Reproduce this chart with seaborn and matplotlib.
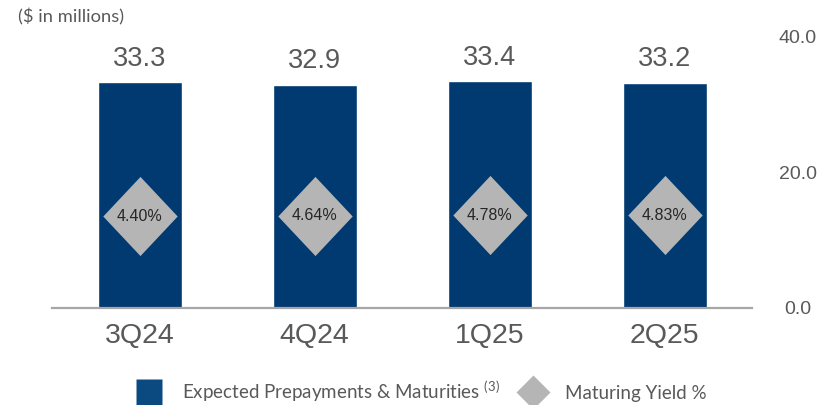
import numpy as np
import matplotlib
matplotlib.use("Agg")
import matplotlib.pyplot as plt
import seaborn as sns
from matplotlib.lines import Line2D

quarters = ["3Q24", "4Q24", "1Q25", "2Q25"]
amounts = [33.3, 32.9, 33.4, 33.2]
yields = [4.40, 4.64, 4.78, 4.83]
bar_label = "Expected Prepayments & Maturities"
yield_label = "Maturing Yield %"

navy = "#003a70"
grey_fill = "#b5b5b5"
text_grey = "#595959"

sns.set_style("white")
plt.rcParams["font.family"] = ["Liberation Sans", "DejaVu Sans"]
plt.rcParams["mathtext.fontset"] = "custom"
plt.rcParams["mathtext.rm"] = "Lato"

fig = plt.figure(figsize=(8.19, 4.05), dpi=100)
ax = fig.add_axes([0.0635, 0.2402, 0.8547, 0.6694])

sns.barplot(x=quarters, y=amounts, color=navy, saturation=1, width=0.48, ax=ax)
ax.set_ylim(0, 40)
ax.set_xlim(-0.5, 3.5)
ax.bar_label(ax.containers[0], fmt="%.1f", padding=7.5, fontsize=19.5, color=text_grey)

# yields on a hidden second axis
diamond = [(-0.94, 0), (0, 1), (0.94, 0), (0, -1)]
ax2 = ax.twinx()
ax2.set_ylim(-29.3, 70.7)
ax2.plot(np.arange(len(quarters)), yields, ls="none", marker=diamond, ms=57,
         mfc=grey_fill, mec="none")
for i, y in enumerate(yields):
    ax2.text(i, y, f"{y:.2f}%", ha="center", va="center", fontsize=11.5, color="#262626")
ax2.set_yticks([])
for s in ax2.spines.values():
    s.set_visible(False)

ax.yaxis.tick_right()
ax.set_yticks([0, 20, 40])
ax.set_yticklabels([f"{v:.1f}" for v in [0, 20, 40]])
ax.tick_params(axis="y", length=0, pad=33, labelsize=14, labelcolor=text_grey)
for t in ax.yaxis.get_major_ticks():
    t.label2.set_ha("center")
ax.tick_params(axis="x", length=0, pad=11, labelsize=20.5, labelcolor=text_grey)
ax.set_xlabel("")
ax.set_ylabel("")
for s in ["top", "left", "right"]:
    ax.spines[s].set_visible(False)
ax.spines["bottom"].set_color("#a6a6a6")
ax.spines["bottom"].set_linewidth(1.6)

fig.text(18 / 819, 1 - 8 / 405, "($ in millions)", family="Lato", fontsize=13.2,
         color=text_grey, ha="left", va="top")

handles = [
    Line2D([], [], ls="none", marker="s", ms=19, mfc="#0b4a80", mec="none"),
    Line2D([], [], ls="none", marker="D", ms=17.5, mfc=grey_fill, mec="none"),
]
labels = [bar_label + r" $^{\mathrm{(3)}}$", yield_label]
fig.legend(handles, labels, loc="center", bbox_to_anchor=(0.514, 0.035), ncol=2,
           frameon=False, prop={"family": "Lato", "size": 13.5}, labelcolor=text_grey,
           handletextpad=1.0, columnspacing=1.0, handlelength=1.5)

fig.savefig("out.png", dpi=100)
